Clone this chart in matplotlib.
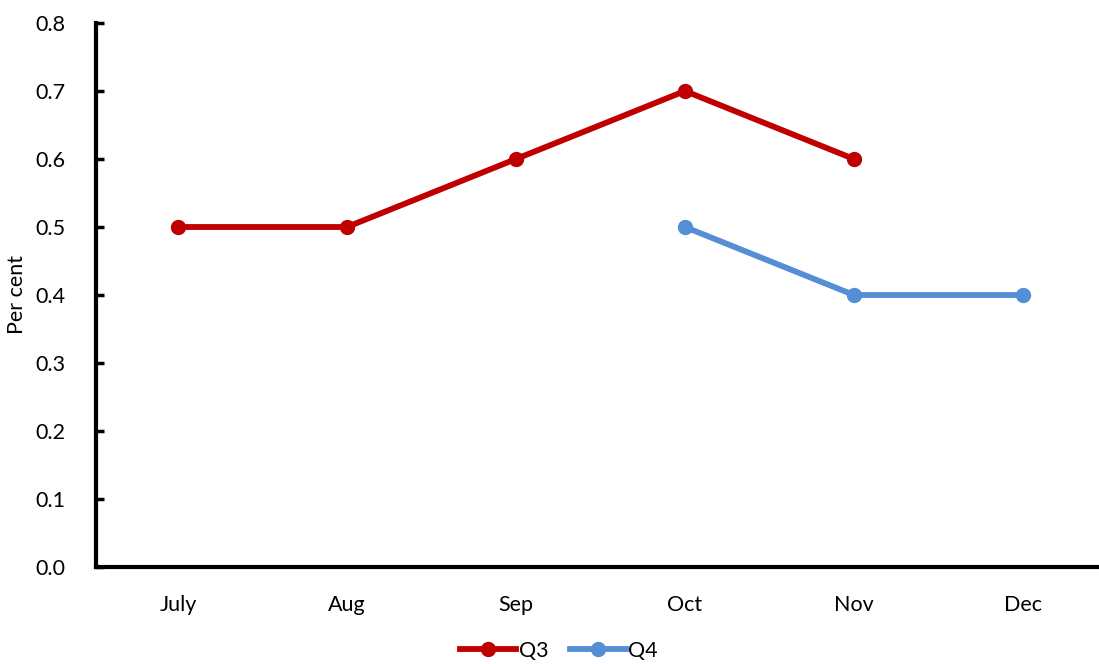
import matplotlib
matplotlib.use('Agg')
import matplotlib.pyplot as plt
import numpy as np

months = ['July', 'Aug', 'Sep', 'Oct', 'Nov', 'Dec']
q3 = [0.5, 0.5, 0.6, 0.7, 0.6, np.nan]
q4 = [np.nan, np.nan, np.nan, 0.5, 0.4, 0.4]
yticks = [0.0, 0.1, 0.2, 0.3, 0.4, 0.5, 0.6, 0.7, 0.8]

plt.rcParams['font.family'] = ['Lato', 'DejaVu Sans']

fig = plt.figure(figsize=(10.99, 6.64), dpi=100)
ax = fig.add_axes([96/1099, 97/664, 1014/1099, 544/664])

x = np.arange(len(months))
ax.plot(x, q3, color='#C00000', lw=4.2, marker='o', ms=10, label='Q3')
ax.plot(x, q4, color='#558ED5', lw=4.2, marker='o', ms=10, label='Q4')

ax.set_xlim(-0.485, 5.515)
ax.set_ylim(0, 0.8)
ax.set_yticks(yticks)
ax.set_yticklabels(['%.1f' % v for v in yticks], fontsize=15.5)
ax.set_xticks(x)
ax.set_xticklabels(months, fontsize=15.5)
ax.tick_params(axis='x', length=0, pad=20)
ax.tick_params(axis='y', direction='in', length=6, width=2.5, pad=22)
ax.set_ylabel('Per cent', fontsize=15.5, labelpad=6)

for s in ['top', 'right']:
  ax.spines[s].set_visible(False)
ax.spines['left'].set_linewidth(3)
ax.spines['bottom'].set_linewidth(3)

ax.legend(loc='upper center', bbox_to_anchor=(463/1014, -0.1), ncol=2,
          frameon=False, fontsize=15.5, handlelength=2.6, handletextpad=0.1,
          columnspacing=1.0)

fig.savefig('out.png', dpi=100)
